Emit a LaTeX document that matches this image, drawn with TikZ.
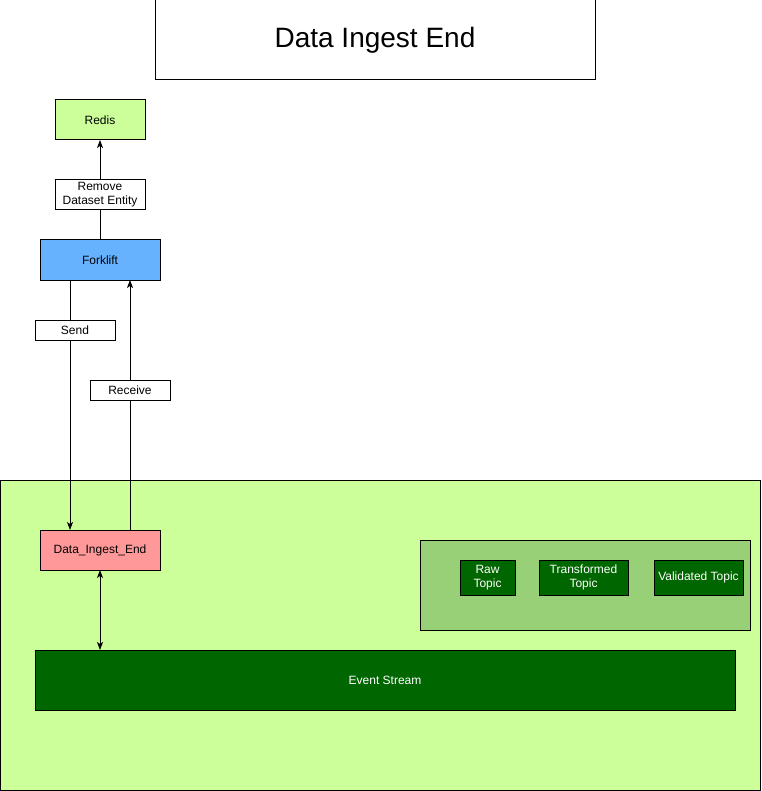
\documentclass[tikz,border=0pt]{standalone}
\usepackage{fontspec}
\setmainfont{Liberation Sans}
\usetikzlibrary{arrows.meta,positioning}

\definecolor{limegreen}{HTML}{CCFF99}
\definecolor{topicgreen}{HTML}{97D077}
\definecolor{streamgreen}{HTML}{006600}
\definecolor{forkblue}{HTML}{66B2FF}
\definecolor{ingestred}{HTML}{FF9999}

\tikzset{
	box/.style={draw, outer sep=0pt, inner sep=2pt, anchor=north west, align=center,
		font=\fontsize{12}{14}\selectfont},
	topic/.style={box, fill=streamgreen, text=white, minimum height=35pt},
	edgelabel/.style={box, fill=white, anchor=center, minimum height=20pt},
	conn/.style={-{Stealth[length=8pt, width=6pt, inset=2pt]}}
}

\begin{document}
\begin{tikzpicture}[x=1pt, y=-1pt, line width=1pt]
	\useasboundingbox (0,0) rectangle (761,791);
	
	\node[box, minimum width=440pt, minimum height=80pt, font=\fontsize{28}{34}\selectfont] (title) at (155,0) {Data Ingest End};
	
	\node[box, fill=limegreen, minimum width=90pt, minimum height=40pt] (redis) at (55,100) {Redis};
	\node[box, fill=forkblue, minimum width=120pt, minimum height=40pt] (forklift) at (40,240) {Forklift};
	
	\node[box, fill=limegreen, minimum width=760pt, minimum height=310pt] (ingest) at (0,480) {};
	\node[box, fill=topicgreen, minimum width=330pt, minimum height=90pt] (topics) at (420,540) {};
	
	\node[box, fill=ingestred, minimum width=120pt, minimum height=40pt] (die) at (40,530) {Data\_Ingest\_End};
	\node[topic, minimum width=55pt] (raw) at (460,560) {Raw\\Topic};
	\node[topic, minimum width=89pt] (transformed) at (539,560) {Transformed\\Topic};
	\node[topic, minimum width=89pt] (validated) at (654,560) {Validated Topic};
	\node[box, fill=streamgreen, text=white, minimum width=700pt, minimum height=60pt] (stream) at (35,650) {Event Stream};
	
	\draw[conn] (forklift.north) -- (redis.south)
		node[edgelabel, minimum width=90pt, minimum height=30pt, pos=0.45] (remove) {Remove\\Dataset Entity};
	\draw[conn] ([xshift=-30pt]forklift.south) -- ([xshift=-30pt]die.north)
		node[edgelabel, minimum width=80pt, pos=0.2, xshift=5pt] (send) {Send};
	\draw[conn] ([xshift=30pt]die.north) -- ([xshift=30pt]forklift.south)
		node[edgelabel, minimum width=80pt, pos=0.56] (receive) {Receive};
	\draw[{Stealth[length=8pt, width=6pt, inset=2pt]}-{Stealth[length=8pt, width=6pt, inset=2pt]}] (die.south) -- (stream.north -| die.south);
\end{tikzpicture}
\end{document}
